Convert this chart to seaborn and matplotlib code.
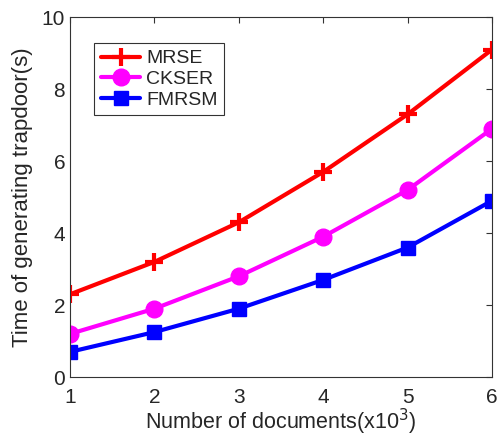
import matplotlib
matplotlib.use('Agg')
import matplotlib.pyplot as plt
import seaborn as sns
import pandas as pd

docs = [1, 2, 3, 4, 5, 6]
mrse = [2.3, 3.2, 4.3, 5.7, 7.3, 9.1]
ckser = [1.2, 1.9, 2.8, 3.9, 5.2, 6.9]
fmrsm = [0.7, 1.25, 1.9, 2.7, 3.6, 4.9]

sns.set_style('white')
plt.rcParams['font.family'] = ['Liberation Sans', 'DejaVu Sans']

df = pd.DataFrame({'docs': docs * 3,
                   'time': mrse + ckser + fmrsm,
                   'scheme': ['MRSE'] * 6 + ['CKSER'] * 6 + ['FMRSM'] * 6})

fig = plt.figure(figsize=(5, 4.4), dpi=100)
ax = fig.add_axes([0.14, 0.143, 0.844, 0.818])

styles = {'MRSE': ('#ff0000', '+', 13, 3), 'CKSER': ('#ff00ff', 'o', 12, 1),
          'FMRSM': ('#0000ff', 's', 10, 1)}
for name, (color, mk, ms, mew) in styles.items():
    sub = df[df['scheme'] == name]
    sns.lineplot(data=sub, x='docs', y='time', ax=ax, color=color, marker=mk,
                 markersize=ms, linewidth=3, markeredgecolor=color,
                 markeredgewidth=mew, label=name)

ax.set_xlim(1, 6)
ax.set_ylim(0, 10)
ax.set_xticks(docs)
ax.set_yticks([0, 2, 4, 6, 8, 10])
ax.tick_params(direction='in', top=True, right=True, length=4, labelsize=15,
               color='#333333', width=0.8)
ax.tick_params(axis='x', pad=8)
for s in ax.spines.values():
    s.set_color('#333333')
    s.set_linewidth(0.8)
ax.set_xlabel('Number of documents(x10$^3$)', fontsize=15.5, labelpad=0)
ax.set_ylabel('Time of generating trapdoor(s)', fontsize=16, labelpad=6)

leg = ax.legend(loc='upper left', bbox_to_anchor=(0.035, 0.955), fontsize=14,
                frameon=True, fancybox=False, edgecolor='black', handlelength=2.0,
                borderpad=0.35, labelspacing=0.15, handletextpad=0.3)
leg.get_frame().set_linewidth(0.8)

fig.savefig('out.png', dpi=100)
